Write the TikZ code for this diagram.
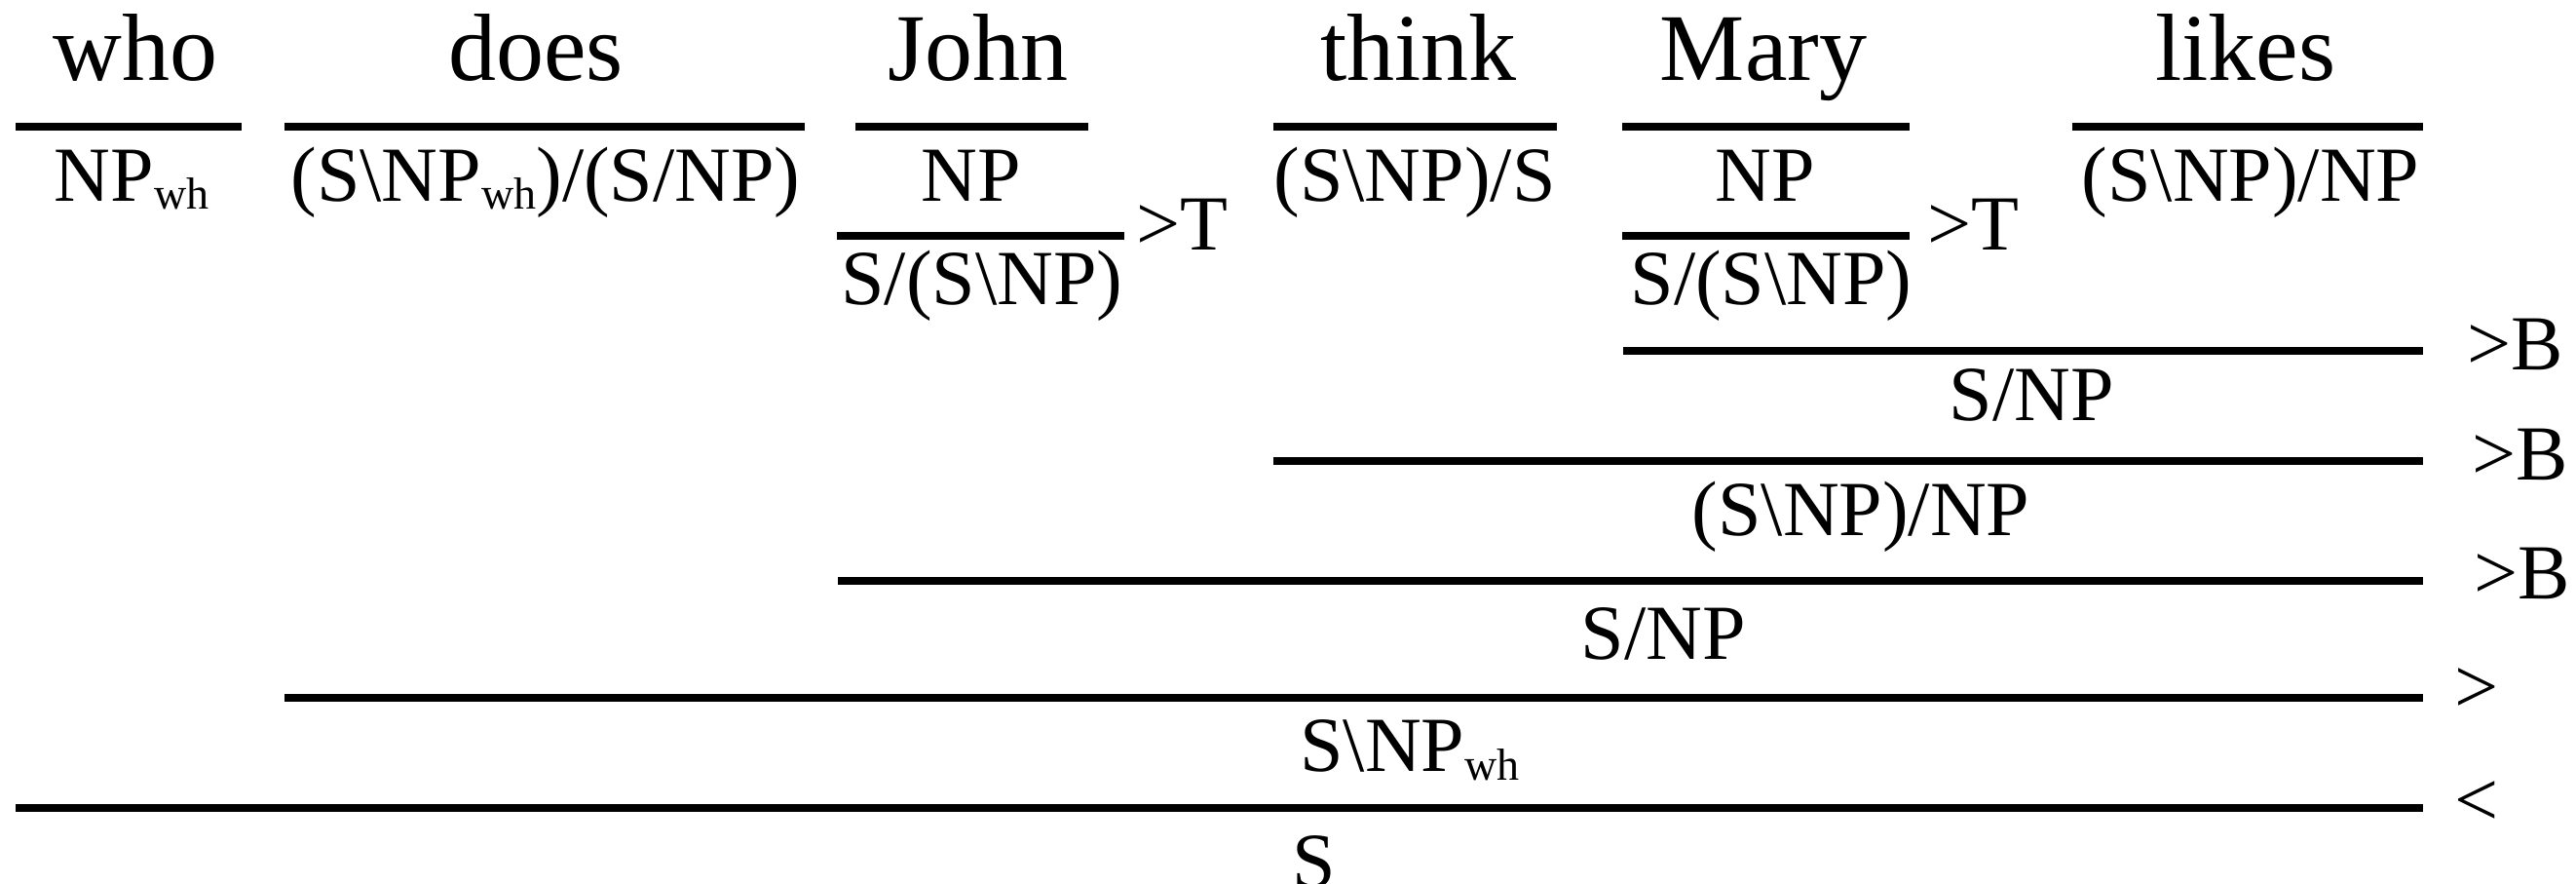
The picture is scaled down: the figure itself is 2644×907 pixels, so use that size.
\documentclass[tikz,border=0pt]{standalone}
\usepackage{fontspec}
\setmainfont{Liberation Serif}
\newcommand{\bs}{\textbackslash}
\newcommand{\whsub}{\raisebox{-2pt}{\fontsize{11.5pt}{11.5pt}\selectfont wh}}
\begin{document}
\begin{tikzpicture}[x=0.25pt,y=-0.25pt,
  word/.style={anchor=base,inner sep=0pt,font=\fontsize{24.5pt}{26pt}\selectfont},
  cat/.style={anchor=base,inner sep=0pt,font=\fontsize{20pt}{22pt}\selectfont},
  rulelabel/.style={anchor=base west,inner sep=0pt,font=\fontsize{20pt}{22pt}\selectfont},
  bar/.style={line width=2pt}]
\useasboundingbox (0,0) rectangle (2644,907);

% words
\node[word] (w1) at (139,83) {who};
\node[word] (w2) at (550,83) {does};
\node[word] (w3) at (1004,83) {John};
\node[word] (w4) at (1456,83) {think};
\node[word] (w5) at (1810,83) {Mary};
\node[word] (w6) at (2305,83) {likes};

% lexical bars
\coordinate (l1a) at (16,130);   \coordinate (l1b) at (248,130);
\coordinate (l2a) at (292,130);  \coordinate (l2b) at (826,130);
\coordinate (l3a) at (878,130);  \coordinate (l3b) at (1117,130);
\coordinate (l4a) at (1307,130); \coordinate (l4b) at (1598,130);
\coordinate (l5a) at (1665,130); \coordinate (l5b) at (1960,130);
\coordinate (l6a) at (2127,130); \coordinate (l6b) at (2487,130);
\foreach \i in {1,...,6} \draw[bar] (l\i a) -- (l\i b);

% lexical categories
\node[cat] (c1) at (135,207) {NP\whsub};
\node[cat] (c2) at (560,207) {(S\bs NP\whsub)/(S/NP)};
\node[cat] (c3) at (997,207) {NP};
\node[cat] (c4) at (1452,207) {(S\bs NP)/S};
\node[cat] (c5) at (1812,207) {NP};
\node[cat] (c6) at (2310,207) {(S\bs NP)/NP};

% type raising
\coordinate (t1a) at (859,242);  \coordinate (t1b) at (1154,242);
\coordinate (t2a) at (1665,242); \coordinate (t2b) at (1960,242);
\draw[bar] (t1a) -- (t1b);
\draw[bar] (t2a) -- (t2b);
\node[rulelabel] (r1) at (1166,257) {>T};
\node[rulelabel] (r2) at (1978,257) {>T};
\node[cat] (d1) at (1008,313) {S/(S\bs NP)};
\node[cat] (d2) at (1818,313) {S/(S\bs NP)};

% composition and application
\coordinate (b1a) at (1666,360); \coordinate (b1b) at (2487,360);
\coordinate (b2a) at (1307,473); \coordinate (b2b) at (2487,473);
\coordinate (b3a) at (860,596);  \coordinate (b3b) at (2487,596);
\coordinate (b4a) at (292,716);  \coordinate (b4b) at (2487,716);
\coordinate (b5a) at (16,829);   \coordinate (b5b) at (2487,829);
\foreach \i in {1,...,5} \draw[bar] (b\i a) -- (b\i b);

\node[rulelabel] (r3) at (2532,380) {>B};
\node[rulelabel] (r4) at (2537,493) {>B};
\node[rulelabel] (r5) at (2539,615) {>B};
\node[rulelabel] (r6) at (2519,732) {>};
\node[rulelabel] (r7) at (2519,847) {<};

\node[cat] (e1) at (2085,432) {S/NP};
\node[cat] (e2) at (1910,550) {(S\bs NP)/NP};
\node[cat] (e3) at (1707,677) {S/NP};
\node[cat] (e4) at (1447,792) {S\bs NP\whsub};
\node[cat] (e5) at (1349,910) {S};
\end{tikzpicture}
\end{document}
